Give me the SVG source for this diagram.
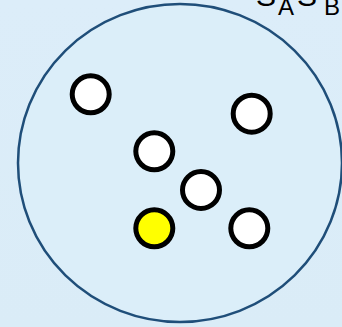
<svg xmlns="http://www.w3.org/2000/svg" width="342" height="327" viewBox="0 0 342 327">
<defs>
<linearGradient id="bg" x1="0" y1="0" x2="0" y2="1">
<stop offset="0" stop-color="#dcedf9"/>
<stop offset="1" stop-color="#daecf7"/>
</linearGradient>
<style>
.node{stroke:#000;stroke-width:5;fill:#fff}
.sel{fill:#ffff00}
.lbl{font-family:"Liberation Sans",Arial,sans-serif;fill:#000}
</style>
</defs>
<rect width="342" height="327" fill="url(#bg)"/>
<g id="set">
<ellipse cx="180" cy="163" rx="162" ry="159" fill="#dbeef9" stroke="#1f4e79" stroke-width="2.5"/>
</g>
<g id="label">
<text class="lbl" font-size="30"><tspan x="256" y="6">S</tspan><tspan x="278" y="15" font-size="24">A</tspan><tspan x="297" y="6">S</tspan><tspan x="324" y="15" font-size="24">B</tspan></text>
</g>
<g id="connectors"></g>
<g id="n1"><circle class="node" cx="90.7" cy="94.3" r="18.5"/></g>
<g id="n2"><circle class="node" cx="251.7" cy="113.7" r="18.5"/></g>
<g id="n3"><circle class="node" cx="154.3" cy="151.3" r="18.5"/></g>
<g id="n4"><circle class="node" cx="201" cy="190" r="18.5"/></g>
<g id="n5"><circle class="node sel" cx="154.3" cy="228.3" r="18.5"/></g>
<g id="n6"><circle class="node" cx="249.3" cy="228.3" r="18.5"/></g>
</svg>
